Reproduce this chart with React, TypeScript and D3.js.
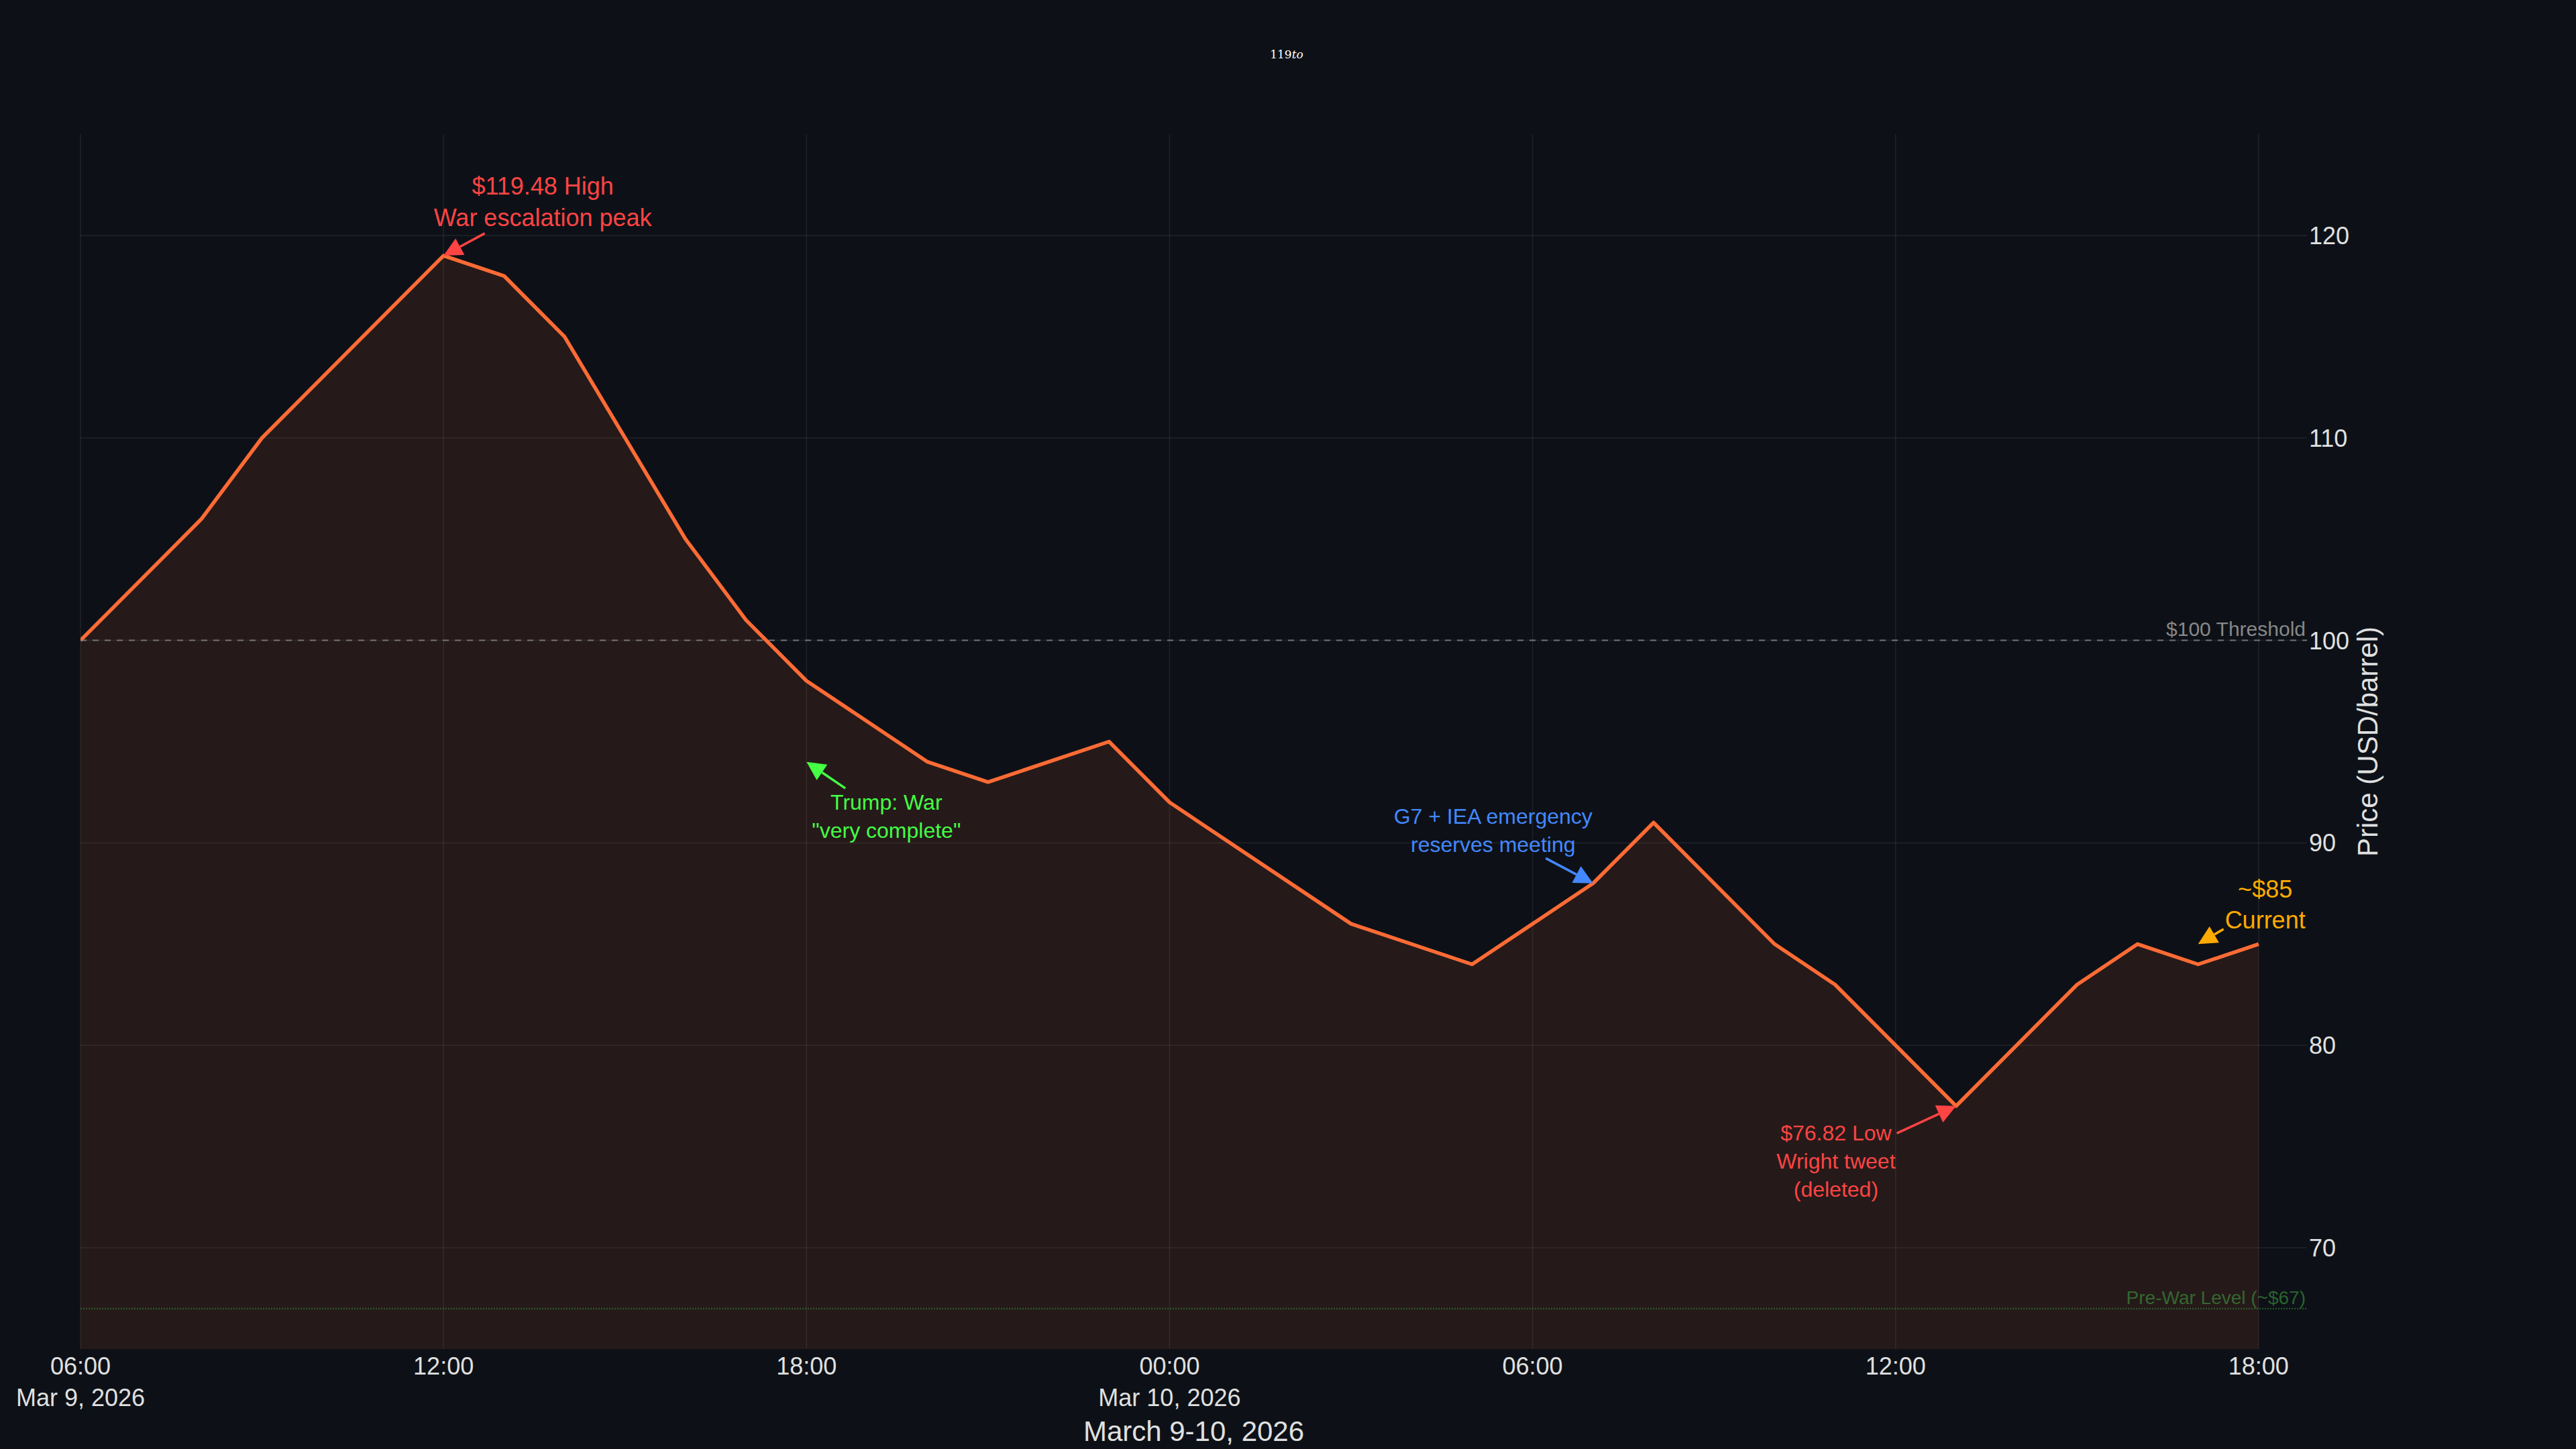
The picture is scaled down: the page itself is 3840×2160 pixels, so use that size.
import { useRef, useLayoutEffect } from "react";
import * as d3 from "d3";

const parseTime = d3.timeParse("%Y-%m-%d %H:%M");

// hourly readings where the line changes direction
const times = [
  "2026-03-09 06:00", "2026-03-09 08:00", "2026-03-09 09:00", "2026-03-09 12:00",
  "2026-03-09 13:00", "2026-03-09 14:00", "2026-03-09 16:00", "2026-03-09 17:00",
  "2026-03-09 18:00", "2026-03-09 20:00", "2026-03-09 21:00", "2026-03-09 23:00",
  "2026-03-10 00:00", "2026-03-10 03:00", "2026-03-10 05:00", "2026-03-10 07:00",
  "2026-03-10 08:00", "2026-03-10 10:00", "2026-03-10 11:00", "2026-03-10 13:00",
  "2026-03-10 15:00", "2026-03-10 16:00", "2026-03-10 17:00", "2026-03-10 18:00",
];
const prices = [100, 106, 110, 119, 118, 115, 105, 101, 98, 94, 93, 95, 92, 86, 84, 88, 91, 85, 83, 77, 83, 85, 84, 85];

const xDomain = ["2026-03-09 06:00", "2026-03-10 18:48"];
const yDomain = [65, 125];
const yTicks = [70, 80, 90, 100, 110, 120];

const thresholdPrice = 100;
const thresholdLabel = "$100 Threshold";
const preWarPrice = 67;
const preWarLabel = "Pre-War Level (~$67)";

const noteTimes = ["2026-03-09 12:00", "2026-03-09 18:00", "2026-03-10 07:00", "2026-03-10 13:00", "2026-03-10 17:00"];
const noteValues = [119, 94, 88, 77, 85];
const noteTexts = [
  ["$119.48 High", "War escalation peak"],
  ["Trump: War", "\"very complete\""],
  ["G7 + IEA emergency", "reserves meeting"],
  ["$76.82 Low", "Wright tweet", "(deleted)"],
  ["~$85", "Current"],
];
const noteColors = ["#ff4444", "#44ff44", "#4488ff", "#ff4444", "#ffaa00"];
// text centre offset from arrow tip, px
const noteOffsets = [[148, -80], [119, 81], [-149, -79], [-179, 82], [100, -59]];
const noteSizes = [36, 32, 32, 32, 36];

const W = 3840;
const H = 2160;
const margin = { top: 200, right: 401, bottom: 149, left: 120 };
const FONT = "'Liberation Sans', Arial, sans-serif";

const useOilChart = () => {
  const svgRef = useRef<SVGSVGElement | null>(null);

  useLayoutEffect(() => {
    if (!svgRef.current) return;
    const svg = d3.select(svgRef.current);
    svg.selectAll("*").remove();

    const data = times.map((t, i) => ({ date: parseTime(t) as Date, price: prices[i] }));

    const x = d3
      .scaleTime()
      .domain(xDomain.map((d) => parseTime(d) as Date))
      .range([margin.left, W - margin.right]);
    const y = d3.scaleLinear().domain(yDomain).range([H - margin.bottom, margin.top]);

    const [x0, x1] = x.range();
    const [yb, yt] = y.range();

    svg.append("rect").attr("width", W).attr("height", H).attr("fill", "#0d1117");

    // grid
    const xTicks = x.ticks(d3.timeHour.every(6) as d3.TimeInterval);
    const grid = svg.append("g").attr("stroke", "rgba(255,255,255,0.08)").attr("stroke-width", 1.5);
    grid
      .selectAll("line.v")
      .data(xTicks)
      .enter()
      .append("line")
      .attr("x1", (d) => x(d))
      .attr("x2", (d) => x(d))
      .attr("y1", yt)
      .attr("y2", yb);
    grid
      .selectAll("line.h")
      .data(yTicks)
      .enter()
      .append("line")
      .attr("x1", x0)
      .attr("x2", x1)
      .attr("y1", (d) => y(d))
      .attr("y2", (d) => y(d));

    svg
      .append("clipPath")
      .attr("id", "plot-clip")
      .append("rect")
      .attr("x", x0)
      .attr("y", yt)
      .attr("width", x1 - x0)
      .attr("height", yb - yt);

    const plot = svg.append("g").attr("clip-path", "url(#plot-clip)");

    const area = d3
      .area<{ date: Date; price: number }>()
      .x((d) => x(d.date))
      .y0(y(yDomain[0]))
      .y1((d) => y(d.price));
    const line = d3
      .line<{ date: Date; price: number }>()
      .x((d) => x(d.date))
      .y((d) => y(d.price));

    plot.append("path").attr("d", area(data)).attr("fill", "rgba(255,107,53,0.1)");
    plot
      .append("path")
      .attr("d", line(data))
      .attr("fill", "none")
      .attr("stroke", "#ff6b35")
      .attr("stroke-width", 5.5)
      .attr("stroke-linejoin", "round");

    // reference lines
    svg
      .append("line")
      .attr("x1", x0)
      .attr("x2", x1)
      .attr("y1", y(thresholdPrice))
      .attr("y2", y(thresholdPrice))
      .attr("stroke", "rgba(136,136,136,0.8)")
      .attr("stroke-width", 2)
      .attr("stroke-dasharray", "9,9");
    svg
      .append("text")
      .attr("x", x1 - 2)
      .attr("y", y(thresholdPrice) - 7)
      .attr("text-anchor", "end")
      .attr("font-family", FONT)
      .attr("font-size", 30)
      .attr("fill", "#888888")
      .text(thresholdLabel);

    svg
      .append("line")
      .attr("x1", x0)
      .attr("x2", x1)
      .attr("y1", y(preWarPrice))
      .attr("y2", y(preWarPrice))
      .attr("stroke", "rgba(68,170,68,0.5)")
      .attr("stroke-width", 2)
      .attr("stroke-dasharray", "2,2");
    svg
      .append("text")
      .attr("x", x1 - 2)
      .attr("y", y(preWarPrice) - 7)
      .attr("text-anchor", "end")
      .attr("font-family", FONT)
      .attr("font-size", 28)
      .attr("fill", "rgba(68,170,68,0.55)")
      .text(preWarLabel);

    // x axis labels
    const fmtHour = d3.timeFormat("%H:%M");
    const fmtDay = d3.timeFormat("%b %-d, %Y");
    const xAxis = svg
      .append("g")
      .attr("font-family", FONT)
      .attr("font-size", 36)
      .attr("fill", "#e0e0e0")
      .attr("text-anchor", "middle");
    xTicks.forEach((d, i) => {
      xAxis.append("text").attr("x", x(d)).attr("y", yb + 38).text(fmtHour(d));
      if (i === 0 || d.getHours() === 0) {
        xAxis.append("text").attr("x", x(d)).attr("y", yb + 85).text(fmtDay(d));
      }
    });
    svg
      .append("text")
      .attr("x", (x0 + x1) / 2)
      .attr("y", yb + 137)
      .attr("text-anchor", "middle")
      .attr("font-family", FONT)
      .attr("font-size", 42)
      .attr("fill", "#e0e0e0")
      .text("March 9-10, 2026");

    // y axis on the right
    svg
      .append("g")
      .attr("font-family", FONT)
      .attr("font-size", 36)
      .attr("fill", "#e0e0e0")
      .selectAll("text")
      .data(yTicks)
      .enter()
      .append("text")
      .attr("x", x1 + 3)
      .attr("y", (d) => y(d) + 13)
      .text((d) => d);
    svg
      .append("text")
      .attr("transform", `translate(${x1 + 90}, ${(yt + yb) / 2}) rotate(-90)`)
      .attr("text-anchor", "middle")
      .attr("dominant-baseline", "central")
      .attr("font-family", FONT)
      .attr("font-size", 42)
      .attr("fill", "#e0e0e0")
      .text("Price (USD/barrel)");

    // title (rendered as broken math text)
    const title = svg
      .append("text")
      .attr("x", 1918)
      .attr("y", 87)
      .attr("text-anchor", "middle")
      .attr("font-family", "'DejaVu Serif', 'Liberation Serif', serif")
      .attr("font-size", 17)
      .attr("fill", "#ffffff");
    title.append("tspan").text("119");
    title.append("tspan").attr("font-style", "italic").text("to");

    // annotations
    noteTimes.forEach((t, i) => {
      const tipX = x(parseTime(t) as Date);
      const tipY = y(noteValues[i]);
      const [ax, ay] = noteOffsets[i];
      const cx = tipX + ax;
      const cy = tipY + ay;
      const size = noteSizes[i];
      const lh = size * 1.3;
      const lines = noteTexts[i];
      const color = noteColors[i];
      const g = svg.append("g");

      let maxW = 0;
      lines.forEach((txt, j) => {
        const node = g
          .append("text")
          .attr("x", cx)
          .attr("y", cy + (j - (lines.length - 1) / 2) * lh + size * 0.35)
          .attr("text-anchor", "middle")
          .attr("font-family", FONT)
          .attr("font-size", size)
          .attr("fill", color)
          .text(txt)
          .node() as SVGTextElement;
        maxW = Math.max(maxW, node.getComputedTextLength());
      });

      const hw = maxW / 2 + 2;
      const hh = (lines.length * lh) / 2;
      const s = Math.min(hw / Math.abs(ax), hh / Math.abs(ay));
      const tailX = cx - ax * s;
      const tailY = cy - ay * s;

      const len = Math.hypot(tailX - tipX, tailY - tipY);
      const ux = (tailX - tipX) / len;
      const uy = (tailY - tipY) / len;
      const headL = 28;
      const headW = 14;
      const bx = tipX + ux * headL;
      const by = tipY + uy * headL;

      g.append("line")
        .attr("x1", tailX)
        .attr("y1", tailY)
        .attr("x2", bx)
        .attr("y2", by)
        .attr("stroke", color)
        .attr("stroke-width", 3.5);
      g.append("path")
        .attr(
          "d",
          `M${tipX},${tipY}L${bx - uy * headW},${by + ux * headW}L${bx + uy * headW},${by - ux * headW}Z`
        )
        .attr("fill", color);
    });
  }, []);

  return svgRef;
};

export default function App() {
  const svgRef = useOilChart();
  return (
    <svg
      ref={svgRef}
      width={W}
      height={H}
      style={{ position: "fixed", left: 0, top: 0, display: "block" }}
    />
  );
}
